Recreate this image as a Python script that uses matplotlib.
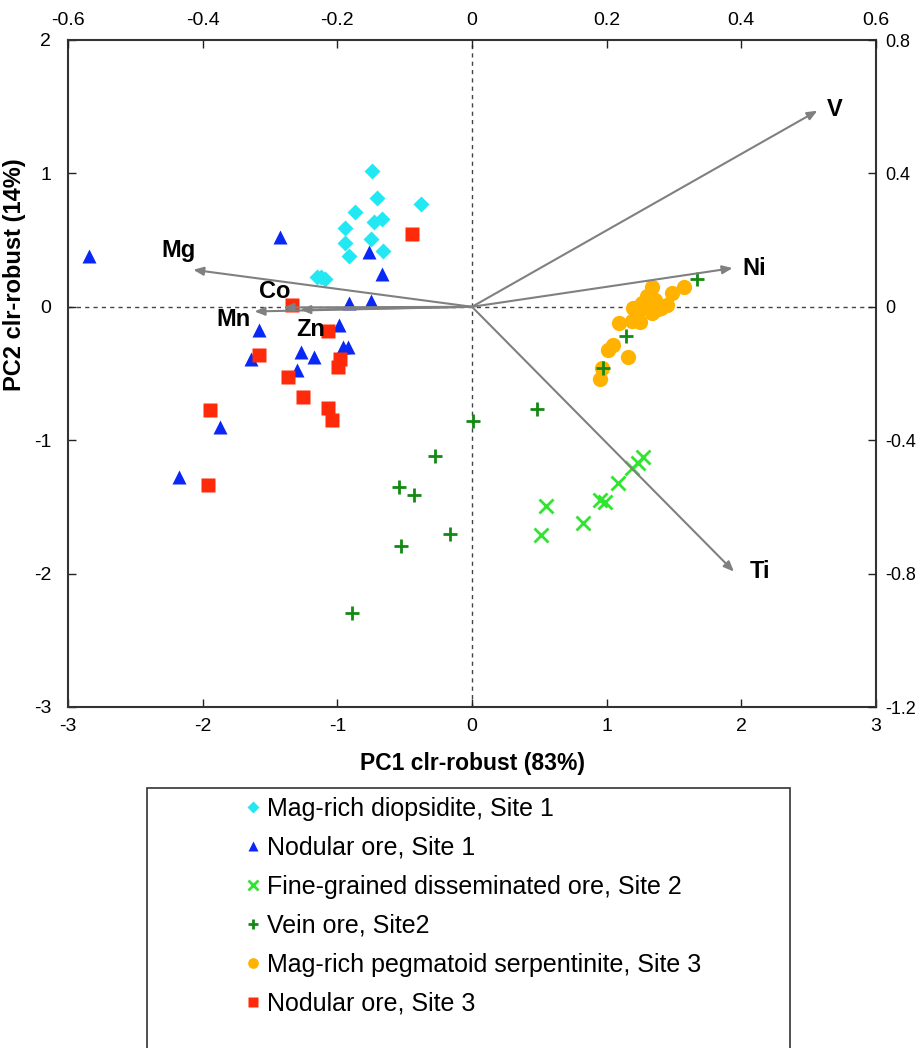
import numpy as np
import matplotlib
matplotlib.use("Agg")
import matplotlib.pyplot as plt
from matplotlib.patches import Rectangle

plt.rcParams['font.family'] = ['Liberation Sans', 'DejaVu Sans']

# scores (PC1, PC2)
diop_x = [-0.745, -0.708, -0.381, -0.866, -0.728, -0.670, -0.943, -0.750, -0.943, -0.663, -0.913, -1.153, -1.12, -1.091]
diop_y = [1.02, 0.815, 0.772, 0.71, 0.637, 0.657, 0.587, 0.507, 0.475, 0.415, 0.382, 0.227, 0.22, 0.21]

nod1_x = [-2.841, -1.425, -0.765, -0.666, -0.911, -0.752, -1.579, -0.985, -0.955, -0.918, -1.269, -1.173, -1.641, -1.297, -1.869, -2.175]
nod1_y = [0.382, 0.52, 0.41, 0.247, 0.03, 0.045, -0.172, -0.135, -0.305, -0.298, -0.34, -0.375, -0.392, -0.472, -0.902, -1.277]

fine_x = [1.272, 1.235, 1.185, 1.081, 0.950, 0.987, 0.549, 0.824, 0.512]
fine_y = [-1.127, -1.172, -1.21, -1.322, -1.452, -1.467, -1.49, -1.622, -1.714]

vein_x = [0.480, 0.005, -0.277, -0.540, -0.428, -0.166, -0.527, -0.893, 1.673, 1.146, 0.975]
vein_y = [-0.767, -0.857, -1.12, -1.352, -1.414, -1.702, -1.792, -2.292, 0.207, -0.217, -0.46]

serp_x = [1.334, 1.576, 1.487, 1.26, 1.359, 1.445, 1.198, 1.235, 1.297, 1.223, 1.334, 1.40, 1.247, 1.185, 1.094, 1.049, 1.007, 1.161, 0.963, 0.95, 1.30, 1.38]
serp_y = [0.145, 0.148, 0.103, 0.028, 0.052, 0.015, -0.01, 0.002, 0.002, -0.06, -0.047, -0.01, -0.117, -0.11, -0.123, -0.285, -0.322, -0.377, -0.46, -0.542, 0.08, -0.02]

nod3_x = [-0.448, -1.334, -1.067, -1.579, -0.98, -0.993, -1.364, -1.257, -1.067, -1.039, -1.947, -1.962]
nod3_y = [0.547, 0.01, -0.18, -0.365, -0.392, -0.45, -0.525, -0.675, -0.762, -0.847, -0.77, -1.334]

# loadings
elements = ['V', 'Ni', 'Ti', 'Mg', 'Co', 'Mn', 'Zn']
load_x = [0.513, 0.387, 0.389, -0.414, -0.280, -0.323, -0.255]
load_y = [0.588, 0.116, -0.794, 0.111, -0.002, -0.014, -0.009]
label_x = [0.527, 0.402, 0.413, -0.436, -0.293, -0.354, -0.239]
label_y = [0.592, 0.116, -0.794, 0.170, 0.045, -0.038, -0.069]

fig = plt.figure(figsize=(9.24, 10.48), dpi=100)
pos = [68 / 924, 1 - 707 / 1048, 808 / 924, 667 / 1048]
ax = fig.add_axes(pos)

ax.axhline(0, color='#444444', lw=1, ls=(0, (3, 3)), zorder=1)
ax.axvline(0, color='#444444', lw=1, ls=(0, (3, 3)), zorder=1)

h1, = ax.plot(diop_x, diop_y, 'D', color='#22E8F4', ms=8.5, mec='none', label='Mag-rich diopsidite, Site 1')
h2, = ax.plot(nod1_x, nod1_y, '^', color='#0A28F5', ms=10, mec='none', label='Nodular ore, Site 1')
h3, = ax.plot(fine_x, fine_y, 'x', color='#2EE62E', ms=10, mew=2, label='Fine-grained disseminated ore, Site 2')
h5, = ax.plot(serp_x, serp_y, 'o', color='#FFB300', ms=11, mec='none', label='Mag-rich pegmatoid serpentinite, Site 3')
h4, = ax.plot(vein_x, vein_y, '+', color='#138A13', ms=10, mew=2, label='Vein ore, Site2')
h6, = ax.plot(nod3_x, nod3_y, 's', color='#FF2A0A', ms=9.5, mec='none', label='Nodular ore, Site 3')

ax.set_xlim(-3, 3)
ax.set_ylim(-3, 2)
ax.set_xticks(np.arange(-3, 4, 1))
ax.set_yticks(np.arange(-3, 3, 1))
ax.set_xticklabels([str(v) for v in range(-3, 4)], fontsize=14)
ax.set_yticklabels([str(v) for v in range(-3, 3)], fontsize=14)
ax.tick_params(direction='in', length=6, width=1, colors='#222222', labelcolor='black', pad=8)
ax.tick_params(axis='y', pad=12)
for s in ax.spines.values():
    s.set_linewidth(1.5)
    s.set_color('#333333')

ax.set_xlabel('PC1 clr-robust (83%)', fontsize=16.5, fontweight='bold')
ax.xaxis.set_label_coords(0.5, -0.068)
ax.set_ylabel('PC2 clr-robust (14%)', fontsize=17, fontweight='bold')
ax.yaxis.set_label_coords(-0.052, 0.648)

# loadings axes (top / right)
ax2 = fig.add_axes(pos, frameon=False)
ax2.set_xlim(-0.6, 0.6)
ax2.set_ylim(-1.2, 0.8)
ax2.xaxis.tick_top()
ax2.yaxis.tick_right()
ax2.set_xticks(np.round(np.arange(-0.6, 0.61, 0.2), 1))
ax2.set_yticks(np.round(np.arange(-1.2, 0.81, 0.4), 1))
ax2.set_xticklabels(['-0.6', '-0.4', '-0.2', '0', '0.2', '0.4', '0.6'], fontsize=14)
ax2.set_yticklabels(['-1.2', '-0.8', '-0.4', '0', '0.4', '0.8'], fontsize=13)
ax2.tick_params(direction='in', length=6, width=1, colors='#222222', labelcolor='black', pad=8)
ax2.tick_params(axis='y', pad=7)

for el, lx, ly, tx, ty in zip(elements, load_x, load_y, label_x, label_y):
    ax2.annotate('', xy=(lx, ly), xytext=(0, 0),
                 arrowprops=dict(arrowstyle='-|>,head_length=0.6,head_width=0.25', color='#808080', lw=1.5,
                                 shrinkA=0, shrinkB=0))
    ha = 'left' if tx > 0 else 'center'
    ax2.text(tx, ty, el, fontsize=17, fontweight='bold', ha=ha, va='center')

# legend frame
fig.add_artist(Rectangle((147 / 924, -0.01), (790 - 147) / 924, 0.01 + 1 - 788 / 1048,
                         transform=fig.transFigure, fill=False, ec='#333333', lw=1.2))
fig.legend(handles=[h1, h2, h3, h4, h5, h6], loc='upper left', bbox_to_anchor=(246 / 924, 1 - 797 / 1048),
           frameon=False, fontsize=18, handlelength=0.6, handletextpad=0.26, labelspacing=0.6,
           markerscale=0.7, borderaxespad=0, borderpad=0)

fig.savefig('out.png', dpi=100)
